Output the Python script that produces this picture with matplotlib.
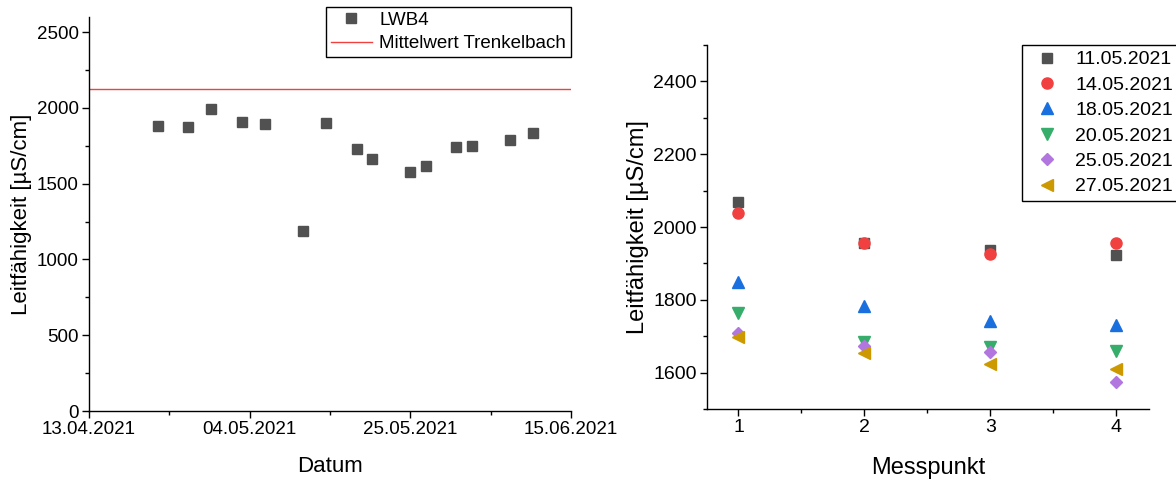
import matplotlib
matplotlib.use("Agg")
import matplotlib.dates as mdates
import matplotlib.pyplot as plt
import pandas as pd
from matplotlib.ticker import AutoMinorLocator, MultipleLocator

plt.rcParams["font.family"] = ["Liberation Sans", "DejaVu Sans"]

# Messreihe LWB4
lwb4_dates = ["22.04.2021", "26.04.2021", "29.04.2021", "03.05.2021", "06.05.2021",
              "11.05.2021", "14.05.2021", "18.05.2021", "20.05.2021", "25.05.2021",
              "27.05.2021", "31.05.2021", "02.06.2021", "07.06.2021", "10.06.2021"]
lwb4_values = [1882, 1876, 1994, 1908, 1895, 1189, 1900, 1730, 1664, 1578,
               1614, 1739, 1750, 1790, 1836]
mittelwert_trenkelbach = 2122
date_ticks = ["13.04.2021", "04.05.2021", "25.05.2021", "15.06.2021"]

# Messpunkte 1-4 je Messtag
messpunkte = [1, 2, 3, 4]
messtage = ["11.05.2021", "14.05.2021", "18.05.2021", "20.05.2021", "25.05.2021", "27.05.2021"]
werte_11_05 = [2070, 1957, 1937, 1922]
werte_14_05 = [2038, 1957, 1927, 1957]
werte_18_05 = [1848, 1783, 1741, 1730]
werte_20_05 = [1763, 1685, 1670, 1659]
werte_25_05 = [1708, 1674, 1657, 1575]
werte_27_05 = [1697, 1653, 1624, 1611]
serien = [werte_11_05, werte_14_05, werte_18_05, werte_20_05, werte_25_05, werte_27_05]

farben = ["#515151", "#F14040", "#1A6FDF", "#37AD6B", "#B177DE", "#CC9900"]
marker = ["s", "o", "^", "v", "D", "<"]
groessen = [7, 8, 8, 8, 6.5, 8]


def style_axes(ax, labelsize):
    for side in ("top", "right"):
        ax.spines[side].set_visible(False)
    for side in ("left", "bottom"):
        ax.spines[side].set_linewidth(1.0)
    ax.tick_params(which="major", direction="out", length=5, width=1.0,
                   labelsize=labelsize, pad=2.5)
    ax.tick_params(which="minor", direction="out", length=3, width=1.0)


fig = plt.figure(figsize=(11.76, 4.82), dpi=100)
W, H = 1176, 482

# linkes Diagramm: Zeitreihe
ax1 = fig.add_axes([89 / W, 1 - 411 / H, (571 - 89) / W, (411 - 17) / H])
d = pd.to_datetime(lwb4_dates, format="%d.%m.%Y")
ax1.plot(d, lwb4_values, ls="none", marker="s", ms=7.5, color="#515151",
         mec="#515151", label="LWB4")
ax1.axhline(mittelwert_trenkelbach, color="#F14040", lw=1.0, label="Mittelwert Trenkelbach")
ticks = pd.to_datetime(date_ticks, format="%d.%m.%Y")
ax1.set_xlim(ticks[0], ticks[-1])
ax1.set_xticks(ticks)
ax1.xaxis.set_major_formatter(mdates.DateFormatter("%d.%m.%Y"))
ax1.xaxis.set_minor_locator(AutoMinorLocator(2))
ax1.set_ylim(0, 2600)
ax1.yaxis.set_major_locator(MultipleLocator(500))
ax1.yaxis.set_minor_locator(MultipleLocator(250))
ax1.set_xlabel("Datum", fontsize=16, labelpad=13)
ax1.set_ylabel("Leitfähigkeit [µS/cm]", fontsize=16, labelpad=3)
style_axes(ax1, 13.5)
ax1.legend(loc="upper right", bbox_to_anchor=(1.0, 1.026), fontsize=13.5, frameon=True,
           fancybox=False, edgecolor="black", framealpha=1, borderpad=0.25,
           labelspacing=0.35, handlelength=2.2, handletextpad=0.4, borderaxespad=0)

# rechtes Diagramm: Messpunkte
ax2 = fig.add_axes([707 / W, 1 - 409 / H, (1149 - 707) / W, (409 - 45) / H])
for werte, tag, f, m, s in zip(serien, messtage, farben, marker, groessen):
    ax2.plot(messpunkte, werte, ls="none", marker=m, ms=s, color=f, mec=f, label=tag)
ax2.set_xlim(0.75, 4.26)
ax2.set_ylim(1500, 2500)
ax2.set_xticks(messpunkte)
ax2.xaxis.set_minor_locator(MultipleLocator(0.5))
ax2.yaxis.set_major_locator(MultipleLocator(200))
ax2.yaxis.set_minor_locator(MultipleLocator(100))
ax2.set_xlabel("Messpunkt", fontsize=17, labelpad=15)
ax2.set_ylabel("Leitfähigkeit [µS/cm]", fontsize=17, labelpad=3)
style_axes(ax2, 14)
ax2.legend(loc="upper left", bbox_to_anchor=((1022 - 707) / (1149 - 707), 1.0), fontsize=14,
           frameon=True, fancybox=False, edgecolor="black", framealpha=1, borderpad=0.3,
           labelspacing=0.4, handlelength=2.0, handletextpad=0.45, borderaxespad=0)

fig.savefig("out.png", dpi=100)
